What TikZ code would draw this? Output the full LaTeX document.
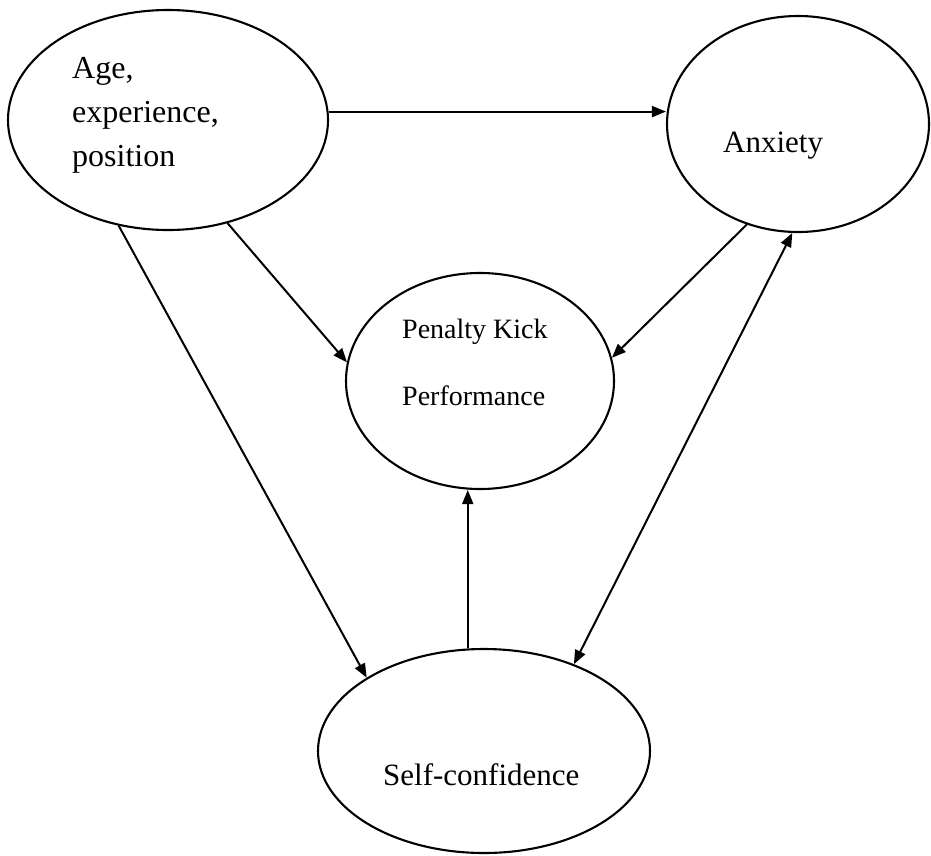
\documentclass[tikz,border=0pt]{standalone}
\usepackage{fontspec}
\setmainfont{Liberation Serif}
\usetikzlibrary{shapes.geometric, arrows.meta}

\tikzset{
  bubble/.style={draw, ellipse, line width=2.1pt, inner sep=0pt},
  arr/.style={-{Triangle[length=14pt,width=11pt]}, line width=2pt},
  both/.style={{Triangle[length=14pt,width=11pt]}-{Triangle[length=14pt,width=11pt]}, line width=2pt},
  lbl/.style={inner sep=0pt, font=\fontsize{31}{44}\selectfont, align=left},
}

\begin{document}
\begin{tikzpicture}[x=1pt, y=-1pt]
  \useasboundingbox (0,0) rectangle (931,855);

  % Elipsy
  \node[bubble, minimum width=320pt, minimum height=220pt] (Age) at (168,120) {};
  \node[bubble, minimum width=262pt, minimum height=216pt] (Anxiety) at (798,124) {};
  \node[bubble, minimum width=268pt, minimum height=216pt] (Penalty) at (480,381) {};
  \node[bubble, minimum width=332pt, minimum height=204pt] (Self) at (484,751) {};

  % Napisy
  \node[lbl, anchor=west, font=\fontsize{32}{44}\selectfont] (ageTxt) at (72,115) {Age,\\experience,\\position};
  \node[lbl, anchor=base west] (anxTxt) at (723,152) {Anxiety};
  \node[lbl, anchor=west, font=\fontsize{28}{67}\selectfont] (penTxt) at (402,362) {Penalty Kick\\Performance};
  \node[lbl, anchor=base west] (selfTxt) at (383,785) {Self-confidence};

  % Strzalki
  \draw[arr] (Age.3) -- (Age.3 -| Anxiety.west);
  \draw[arr] (Age.-60) -- (Penalty.172);
  \draw[arr] (Age.-115) -- (Self.148);
  \draw[arr] (Anxiety.-117) -- (Penalty.10);
  \draw[arr] (Self.99) -- (Self.99 |- Penalty.south);
  \draw[both] (Self.44) -- (Anxiety.-93);
\end{tikzpicture}
\end{document}
